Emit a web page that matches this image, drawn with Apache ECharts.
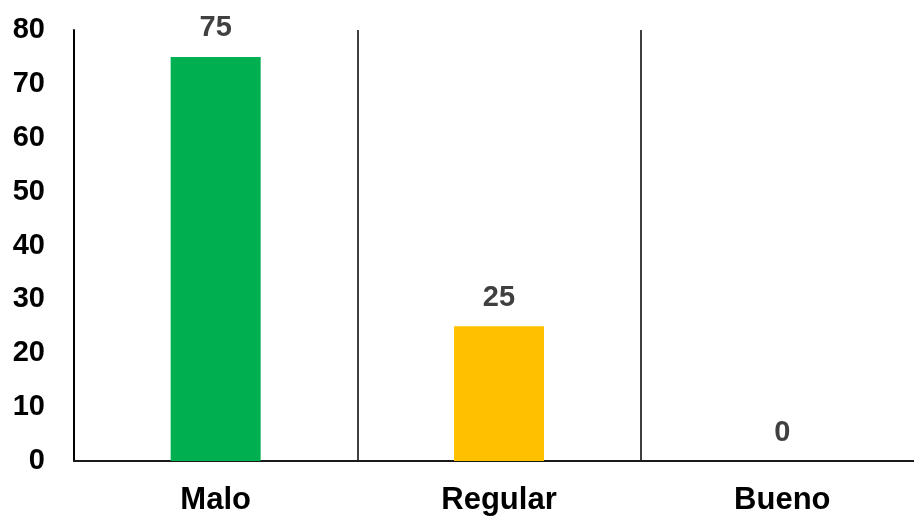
<!DOCTYPE html>
<html>
<head>
<meta charset="utf-8">
<script src="https://cdn.jsdelivr.net/npm/echarts@6/dist/echarts.min.js"></script>
<style>
  html, body { margin: 0; padding: 0; background: #fff; overflow: hidden; }
  #chart { width: 914px; height: 518px; }
</style>
</head>
<body>
<div id="chart"></div>
<script>
// Ratings and their share
const categories = ['Malo', 'Regular', 'Bueno'];
const values = [75, 25, 0];
const barColors = ['#00B050', '#FFC000', '#A5A5A5'];
const yTicks = { min: 0, max: 80, interval: 10 };

const chart = echarts.init(document.getElementById('chart'));
chart.setOption({
  animation: false,
  // plot area runs slightly past the right edge of the canvas
  grid: { left: 74, width: 850, top: 30, bottom: 57, outerBoundsMode: 'none' },
  xAxis: {
    type: 'category',
    data: categories,
    boundaryGap: true,
    axisLine: { show: true, lineStyle: { color: '#1a1a1a', width: 2 } },
    axisTick: { show: false },
    splitLine: { show: true, lineStyle: { color: '#000', width: 1.5 } },
    axisLabel: {
      color: '#000',
      fontFamily: 'Liberation Sans, Arial, sans-serif',
      fontWeight: 'bold',
      fontSize: 31,
      margin: 24
    }
  },
  yAxis: {
    type: 'value',
    min: yTicks.min,
    max: yTicks.max,
    interval: yTicks.interval,
    axisLine: { show: true, lineStyle: { color: '#000', width: 2 } },
    axisTick: { show: false },
    splitLine: { show: false },
    axisLabel: {
      color: '#000',
      fontFamily: 'Liberation Sans, Arial, sans-serif',
      fontWeight: 'bold',
      fontSize: 29,
      margin: 29
    }
  },
  series: [{
    type: 'bar',
    barWidth: 90,
    data: values.map((v, i) => ({ value: v, itemStyle: { color: barColors[i] } })),
    label: {
      show: true,
      position: 'top',
      distance: 14,
      color: '#404040',
      fontFamily: 'Liberation Sans, Arial, sans-serif',
      fontWeight: 'bold',
      fontSize: 29
    }
  }]
});
</script>
</body>
</html>
